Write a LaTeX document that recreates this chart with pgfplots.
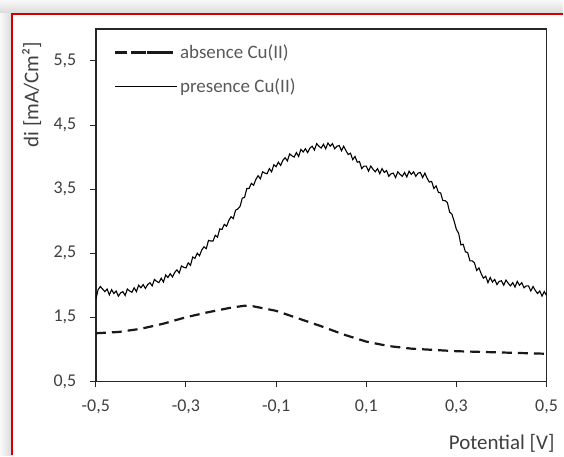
\documentclass[border=0pt]{standalone}
\usepackage{pgfplots}
\pgfplotsset{compat=1.18}
\usetikzlibrary{backgrounds}
\usepackage{fontspec}
\setmainfont{Carlito}
\definecolor{framered}{RGB}{210,0,0}
\definecolor{txt}{RGB}{64,64,64}
\definecolor{legtxt}{RGB}{89,89,89}
\begin{document}
\begin{tikzpicture}
\begin{axis}[
  at={(0,0)}, anchor=south west,
  scale only axis, width=451.5pt, height=353pt,
  xmin=-0.5, xmax=0.5, ymin=0.5, ymax=6,
  xtick={-0.5,-0.3,-0.1,0.1,0.3,0.5},
  xticklabels={{-0,5},{-0,3},{-0,1},{0,1},{0,3},{0,5}},
  ytick={0.5,1.5,2.5,3.5,4.5,5.5},
  yticklabels={{0,5},{1,5},{2,5},{3,5},{4,5},{5,5}},
  tick pos=left, tick align=outside, major tick length=6pt,
  axis line style={black!85, line width=1.6pt},
  tick style={black!85, line width=1pt},
  ticklabel style={font=\fontsize{18}{21}\selectfont, text=txt},
  yticklabel style={xshift=-10pt},
  xticklabel style={yshift=-9pt},
  xlabel={Potential [V]},
  xlabel style={at={(axis description cs:1.018,-0.1926)}, anchor=base east, inner sep=0pt, font=\fontsize{21}{24}\selectfont, text=txt},
  ylabel={di [mA/Cm²]},
  ylabel style={at={(axis description cs:-0.1229,0.963)}, anchor=base east, inner sep=0pt, yshift=2pt, font=\fontsize{21}{24}\selectfont, text=txt},
  legend style={at={(axis description cs:0.033,0.967)}, anchor=north west, draw=none, fill=none,
    font=\fontsize{19}{22}\selectfont, text=legtxt, row sep=15pt},
  legend cell align=left,
]
\addplot[black!90, line width=2.2pt, dash pattern=on 10pt off 6pt,
  legend image code/.code={\draw[black!90, line width=2.4pt, solid] (0pt,0pt) -- (12pt,0pt) (19pt,0pt) -- (31pt,0pt) (38pt,0pt) -- (50pt,0pt); \path (0pt,0pt) -- (62pt,0pt);}] coordinates {
(-0.50,1.25) (-0.45,1.27) (-0.40,1.32) (-0.35,1.40) (-0.30,1.50) (-0.25,1.58)
(-0.20,1.65) (-0.17,1.68) (-0.15,1.67) (-0.10,1.60) (-0.05,1.48) (0.00,1.36)
(0.05,1.23) (0.10,1.12) (0.15,1.05) (0.20,1.01) (0.25,0.99) (0.30,0.97)
(0.35,0.96) (0.40,0.95) (0.45,0.94) (0.50,0.93)
};
\addlegendentry{absence Cu(II)}
\addplot[black, line width=1.1pt,
  legend image code/.code={\draw[black, line width=1pt, solid] (0pt,0pt) -- (58pt,0pt); \path (0pt,0pt) -- (62pt,0pt);}] coordinates {
(-0.500,1.78) (-0.495,1.93) (-0.490,1.98) (-0.485,1.94) (-0.480,1.90) (-0.475,1.94)
(-0.470,1.85) (-0.465,1.93) (-0.460,1.87) (-0.455,1.91) (-0.450,1.83) (-0.445,1.88)
(-0.440,1.90) (-0.435,1.84) (-0.430,1.94) (-0.425,1.91) (-0.420,1.89) (-0.415,1.96)
(-0.410,1.90) (-0.405,2.00) (-0.400,1.96) (-0.395,2.01) (-0.390,1.95) (-0.385,2.01)
(-0.380,2.04) (-0.375,1.99) (-0.370,2.09) (-0.365,2.06) (-0.360,2.04) (-0.355,2.11)
(-0.350,2.05) (-0.345,2.16) (-0.340,2.12) (-0.335,2.18) (-0.330,2.13) (-0.325,2.20)
(-0.320,2.24) (-0.315,2.19) (-0.310,2.30) (-0.305,2.28) (-0.300,2.27) (-0.295,2.35)
(-0.290,2.31) (-0.285,2.44) (-0.280,2.42) (-0.275,2.50) (-0.270,2.46) (-0.265,2.55)
(-0.260,2.60) (-0.255,2.57) (-0.250,2.70) (-0.245,2.69) (-0.240,2.69) (-0.235,2.78)
(-0.230,2.75) (-0.225,2.88) (-0.220,2.87) (-0.215,2.95) (-0.210,2.92) (-0.205,3.01)
(-0.200,3.07) (-0.195,3.04) (-0.190,3.17) (-0.185,3.19) (-0.180,3.23) (-0.175,3.36)
(-0.170,3.37) (-0.165,3.51) (-0.160,3.51) (-0.155,3.59) (-0.150,3.56) (-0.145,3.65)
(-0.140,3.71) (-0.135,3.66) (-0.130,3.77) (-0.125,3.75) (-0.120,3.74) (-0.115,3.82)
(-0.110,3.77) (-0.105,3.88) (-0.100,3.85) (-0.095,3.92) (-0.090,3.87) (-0.085,3.95)
(-0.080,3.99) (-0.075,3.94) (-0.070,4.05) (-0.065,4.02) (-0.060,4.00) (-0.055,4.07)
(-0.050,4.01) (-0.045,4.12) (-0.040,4.08) (-0.035,4.13) (-0.030,4.07) (-0.025,4.14)
(-0.020,4.17) (-0.015,4.11) (-0.010,4.21) (-0.005,4.17) (0.000,4.14) (0.005,4.20)
(0.010,4.13) (0.015,4.22) (0.020,4.17) (0.025,4.21) (0.030,4.13) (0.035,4.17)
(0.040,4.18) (0.045,4.10) (0.050,4.17) (0.055,4.10) (0.060,4.04) (0.065,4.06)
(0.070,3.96) (0.075,4.01) (0.080,3.92) (0.085,3.93) (0.090,3.82) (0.095,3.86)
(0.100,3.86) (0.105,3.78) (0.110,3.86) (0.115,3.81) (0.120,3.77) (0.125,3.82)
(0.130,3.74) (0.135,3.82) (0.140,3.76) (0.145,3.79) (0.150,3.70) (0.155,3.74)
(0.160,3.75) (0.165,3.68) (0.170,3.77) (0.175,3.73) (0.180,3.70) (0.185,3.76)
(0.190,3.69) (0.195,3.78) (0.200,3.73) (0.205,3.77) (0.210,3.70) (0.215,3.75)
(0.220,3.76) (0.225,3.68) (0.230,3.75) (0.235,3.67) (0.240,3.61) (0.245,3.62)
(0.250,3.51) (0.255,3.55) (0.260,3.45) (0.265,3.44) (0.270,3.32) (0.275,3.32)
(0.280,3.29) (0.285,3.14) (0.290,3.11) (0.295,3.00) (0.300,2.87) (0.305,2.81)
(0.310,2.63) (0.315,2.64) (0.320,2.52) (0.325,2.51) (0.330,2.38) (0.335,2.38)
(0.340,2.35) (0.345,2.23) (0.350,2.27) (0.355,2.18) (0.360,2.11) (0.365,2.14)
(0.370,2.04) (0.375,2.12) (0.380,2.05) (0.385,2.09) (0.390,2.01) (0.395,2.06)
(0.400,2.07) (0.405,2.00) (0.410,2.08) (0.415,2.03) (0.420,1.99) (0.425,2.04)
(0.430,1.97) (0.435,2.06) (0.440,2.00) (0.445,2.04) (0.450,1.96) (0.455,1.99)
(0.460,1.99) (0.465,1.91) (0.470,1.98) (0.475,1.92) (0.480,1.87) (0.485,1.91)
(0.490,1.83) (0.495,1.90) (0.500,1.84)
};
\addlegendentry{presence Cu(II)}
\end{axis}
\begin{scope}[on background layer, x=1pt, y=1pt, shift={(current axis.south west)}, xshift=-96pt, yshift=-74pt]
\fill[gray!15] (0,0) rectangle (564,456);
\shade[top color=gray!5, bottom color=gray!30] (0,442) rectangle (564,456);
\shade[left color=gray!5, right color=gray!30] (0,0) rectangle (12,442);
\fill[white] (12,0) rectangle (564,442);
\draw[framered, line width=2pt] (12,0) -- (12,442) -- (564,442);
\end{scope}
\end{tikzpicture}
\end{document}
